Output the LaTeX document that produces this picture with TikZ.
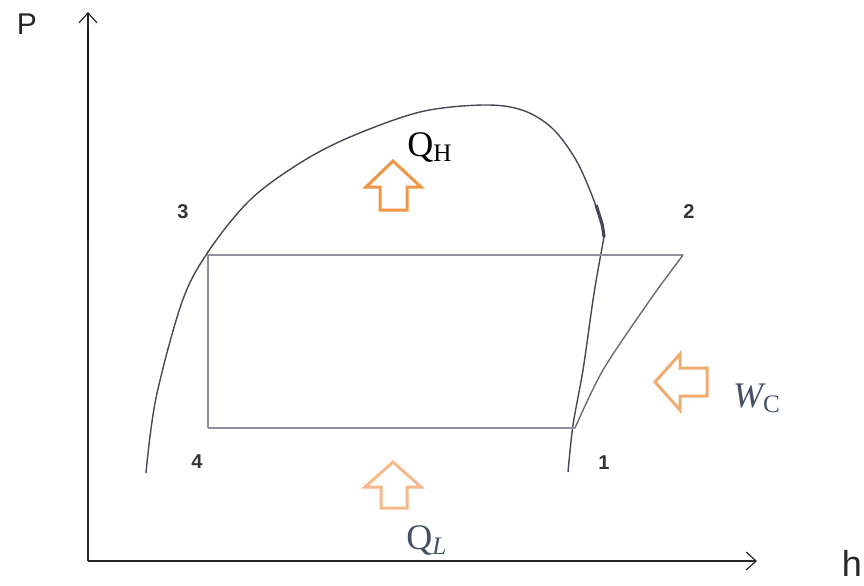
\documentclass[tikz,border=0pt]{standalone}
\usepackage{fontspec}
\newfontfamily\labfont{Liberation Sans}
\newfontfamily\qfont{Liberation Serif}
\usetikzlibrary{arrows.meta}
\definecolor{domec}{RGB}{70,70,85}
\definecolor{cyclec}{RGB}{145,145,158}
\definecolor{orA}{RGB}{238,150,70}
\definecolor{orB}{RGB}{245,185,140}
\definecolor{orC}{RGB}{240,172,110}
\definecolor{txtc}{RGB}{70,80,100}
\tikzset{
  axis/.style={draw=black!85, line width=0.6pt, -{Straight Barb[length=5pt,width=9pt]}},
  dome/.style={draw=domec, line width=0.7pt},
  cyc/.style={draw=cyclec, line width=0.7pt},
  hollow/.style={line width=1.5pt, line join=miter},
  axlab/.style={font=\labfont\fontsize{15}{15}\selectfont, text=black!85},
  ptlab/.style={font=\labfont\bfseries\fontsize{10}{10}\selectfont, text=black!80},
  qlab/.style={font=\qfont\fontsize{18}{18}\selectfont}
}
\begin{document}
\begin{tikzpicture}[x=0.5pt,y=-0.5pt]
\useasboundingbox (0,0) rectangle (864,585);
% axes
\coordinate (O) at (88,561);
\coordinate (ytop) at (88,12);
\coordinate (xend) at (757,561);
\draw[axis] (O) -- (ytop);
\draw[axis] (O) -- (xend);
\draw[line width=1.3pt, black!90] (88,30) -- (88,240);
\node[axlab] (P) at (27,24) {P};
\node[axlab, font=\labfont\fontsize{18}{18}\selectfont] (h) at (852,563) {h};
% saturation dome
\draw[dome] plot[smooth, tension=0.55] coordinates {(146,473) (156,398) (182,302) (208,252) (250,200) (300,163) (350,137) (420,112) (483,105) (522,110) (552,128) (576,160) (593,198) (602,226) (604,237)};
\draw[domec, line width=1.6pt] plot[smooth] coordinates {(596,205) (602,224) (604,237)};
\draw[dome] plot[smooth, tension=0.5] coordinates {(604,237) (598,270) (593,300) (583,370) (573,425) (568,472)};
% cycle
\coordinate (c3) at (208,255);
\coordinate (c2) at (683,255);
\coordinate (c4) at (208,428);
\coordinate (c1) at (575,428);
\draw[cyc] (c4) -- (c3) -- (c2);
\draw[cyc] (c4) -- (c1);
\draw[cyc, draw=domec!80] plot[smooth, tension=0.5] coordinates {(c1) (603,370) (650,300) (683,255)};
% state labels
\node[ptlab] (n3) at (183,212) {3};
\node[ptlab] (n2) at (689,212) {2};
\node[ptlab] (n4) at (197,462) {4};
\node[ptlab] (n1) at (604,463) {1};
% heat / work arrows
\draw[hollow, orA] (393,161) -- (421,187) -- (407,187) -- (407,210) -- (380,210) -- (380,187) -- (366,187) -- cycle;
\draw[hollow, orB] (393,462) -- (421,487) -- (407,487) -- (407,508) -- (381,508) -- (381,487) -- (365,487) -- cycle;
\draw[hollow, orC] (655,382) -- (680,354) -- (680,368) -- (707,368) -- (707,396) -- (680,396) -- (680,410) -- cycle;
% texts
\node[qlab] (QH) at (430,147) {Q\textsubscript{H}};
\node[qlab, text=txtc] (QL) at (427,540) {Q\textsubscript{\itshape L}};
\node[qlab, text=txtc] (WC) at (757,398) {\itshape W\textsubscript{\upshape C}};
\end{tikzpicture}
\end{document}
